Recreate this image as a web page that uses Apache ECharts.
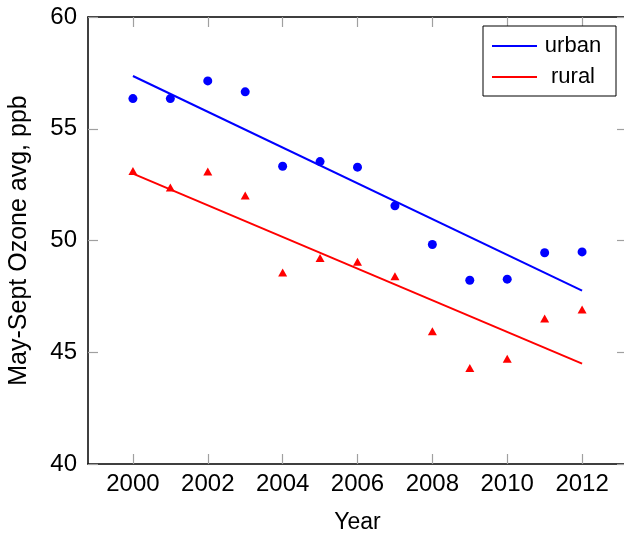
<!DOCTYPE html>
<html>
<head>
<meta charset="utf-8">
<script src="https://cdn.jsdelivr.net/npm/echarts@6/dist/echarts.min.js"></script>
<style>html,body{margin:0;padding:0;background:#fff}#c{width:624px;height:533px}</style>
</head>
<body>
<div id="c"></div>
<script>
const years = [2000, 2001, 2002, 2003, 2004, 2005, 2006, 2007, 2008, 2009, 2010, 2011, 2012];
const urban = [56.35, 56.35, 57.14, 56.65, 53.32, 53.53, 53.28, 51.55, 49.82, 48.22, 48.27, 49.45, 49.49];
const rural = [53.07, 52.33, 53.04, 51.97, 48.52, 49.17, 49.00, 48.36, 45.90, 44.25, 44.66, 46.47, 46.87];
const trendYears = [2000, 2012];
const urbanTrend = [57.36, 47.76];
const ruralTrend = [52.99, 44.49];
const xTicks = [2000, 2002, 2004, 2006, 2008, 2010, 2012];
const yTicks = [40, 45, 50, 55, 60];

const FONT = 'Liberation Sans';
const pairs = (xs, ys) => xs.map((x, i) => [x, ys[i]]);

const chart = echarts.init(document.getElementById('c'), null, {renderer: 'canvas'});
const tickStyle = {show: true, inside: true, length: 10, lineStyle: {color: '#a0a0a0', width: 1.2}};
const lineStyle = {show: true, lineStyle: {color: '#000', width: 1.5}};
chart.setOption({
  animation: false,
  textStyle: {fontFamily: FONT},
  grid: {left: 88, top: 17, width: 539, height: 447, containLabel: false, outerBoundsMode: 'none'},
  xAxis: [{
    type: 'value', min: 1998.8, max: 2013.2, position: 'bottom',
    name: 'Year', nameLocation: 'middle', nameGap: 47,
    nameTextStyle: {fontFamily: FONT, fontSize: 23, color: '#000'},
    axisLine: lineStyle,
    axisTick: Object.assign({customValues: xTicks}, tickStyle),
    axisLabel: {customValues: xTicks, margin: 8, fontFamily: FONT, fontSize: 24, color: '#000', formatter: v => String(v)},
    splitLine: {show: false}
  }, {
    type: 'value', min: 1998.8, max: 2013.2, position: 'top',
    axisLine: lineStyle,
    axisTick: Object.assign({customValues: xTicks}, tickStyle),
    axisLabel: {show: false},
    splitLine: {show: false}
  }],
  yAxis: [{
    type: 'value', min: 40, max: 60, interval: 5, position: 'left',
    name: 'May-Sept Ozone avg, ppb', nameLocation: 'middle', nameGap: 56,
    nameTextStyle: {fontFamily: FONT, fontSize: 25, color: '#000'},
    axisLine: lineStyle,
    axisTick: Object.assign({customValues: yTicks}, tickStyle),
    axisLabel: {customValues: yTicks, margin: 11, fontFamily: FONT, fontSize: 24, color: '#000'},
    splitLine: {show: false}
  }, {
    type: 'value', min: 40, max: 60, interval: 5, position: 'right',
    axisLine: lineStyle,
    axisTick: Object.assign({customValues: yTicks}, tickStyle),
    axisLabel: {show: false},
    splitLine: {show: false}
  }],
  legend: {
    orient: 'vertical', left: 483, top: 26,
    data: [{name: 'urban'}, {name: 'rural'}],
    icon: 'rect', itemWidth: 45, itemHeight: 2, itemGap: 9,
    padding: [9, 12, 8, 9],
    borderColor: '#000', borderWidth: 1, backgroundColor: '#fff',
    formatter: n => '{c|' + n + '}',
    textStyle: {fontFamily: FONT, fontSize: 22, color: '#000',
      rich: {c: {fontFamily: FONT, fontSize: 22, color: '#000', width: 62, align: 'center', lineHeight: 24}}}
  },
  series: [
    {name: 'urban', type: 'line', data: pairs(trendYears, urbanTrend), symbol: 'none',
     lineStyle: {color: '#0000ff', width: 2}, itemStyle: {color: '#0000ff'}, z: 3},
    {name: 'rural', type: 'line', data: pairs(trendYears, ruralTrend), symbol: 'none',
     lineStyle: {color: '#ff0000', width: 2}, itemStyle: {color: '#ff0000'}, z: 3},
    {name: 'urban obs', type: 'scatter', data: pairs(years, urban), symbol: 'circle', symbolSize: 9,
     itemStyle: {color: '#0000ff', opacity: 1}, z: 4},
    {name: 'rural obs', type: 'scatter', data: pairs(years, rural), symbol: 'triangle', symbolSize: [9, 8],
     symbolOffset: [0, -1], itemStyle: {color: '#ff0000', opacity: 1}, z: 4}
  ]
});
</script>
</body>
</html>
